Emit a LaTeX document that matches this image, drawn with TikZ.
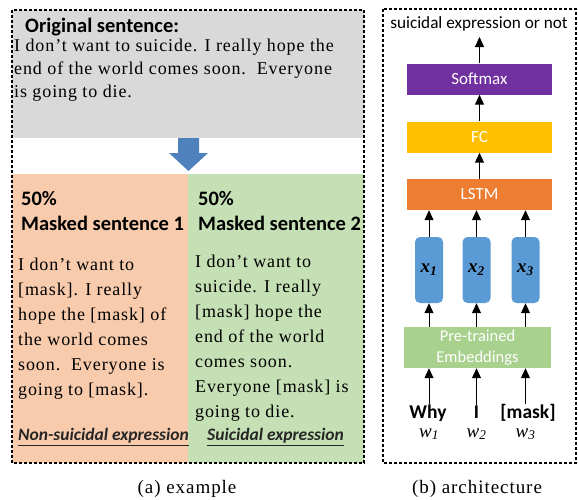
\documentclass[tikz,border=0pt]{standalone}
\usepackage{fontspec}
\setmainfont{Liberation Serif}
\newfontfamily\calibri{Carlito}
\newfontfamily\wordserif[LetterSpace=5]{Liberation Serif}
\usetikzlibrary{arrows.meta}

\definecolor{greyback}{HTML}{D9D9D9}
\definecolor{orangeback}{HTML}{F8CBAD}
\definecolor{greenback}{HTML}{C5E0B4}
\definecolor{arrowblue}{HTML}{4F81BD}
\definecolor{softmaxpurple}{HTML}{7030A0}
\definecolor{fcyellow}{HTML}{FFC000}
\definecolor{lstmorange}{HTML}{ED7D31}
\definecolor{vecblue}{HTML}{5B9BD5}
\definecolor{embgreen}{HTML}{A9D18E}
\definecolor{labelgrey}{HTML}{262626}

\begin{document}
\begin{tikzpicture}
  [x=1pt,y=-1pt,
   panel/.style={draw,line width=1.6pt,dash pattern=on 3pt off 2pt},
   layer/.style={minimum width=145pt,minimum height=31pt,inner sep=0pt,text=white,
     font=\calibri\fontsize{17}{20}\selectfont},
   vec/.style={fill=vecblue,rounded corners=5pt,minimum width=28pt,minimum height=66pt,inner sep=0pt,
     font=\bfseries\itshape\fontsize{19}{20}\selectfont},
   up/.style={-{Triangle[length=10pt,width=9pt]},line width=1pt},
   body/.style={anchor=north west,align=left,inner sep=0pt,font=\wordserif\fontsize{18}{25}\selectfont},
   head/.style={anchor=north west,align=left,inner sep=0pt,font=\calibri\bfseries\fontsize{20.5}{25}\selectfont},
   verdict/.style={inner sep=0pt,text=labelgrey,font=\calibri\bfseries\itshape\fontsize{17.5}{18}\selectfont},
   word/.style={inner sep=0pt,anchor=base,font=\calibri\bfseries\fontsize{19.5}{20}\selectfont},
   wvar/.style={inner sep=0pt,anchor=base,font=\itshape\fontsize{19}{20}\selectfont},
   caption/.style={inner sep=0pt,anchor=base,font=\wordserif\fontsize{19}{20}\selectfont}]

  \useasboundingbox (0,0) rectangle (578,499);

  % (a) example
  \fill[greyback] (12,10) rectangle (364,138);
  \fill[orangeback] (12,174) rectangle (188,463);
  \fill[greenback] (188,174) rectangle (364,463);
  \fill[arrowblue] (178,138) -- (199,138) -- (199,153) -- (208,153) -- (188.5,171)
    -- (169,153) -- (178,153) -- cycle;
  \draw[panel] (12,10) rectangle (364,463);

  \node [head] (orighead) at (25,17.5) {Original sentence:};
  \node [body] (origtext) at (14,39) {I don’t want to suicide. I really hope the\\[-2pt]
    end of the world comes soon.\ \ Everyone\\[-2pt] is going to die.};

  \node [head] (head1) at (21,191) {50\%\\Masked sentence 1};
  \node [head] (head2) at (198,191) {50\%\\Masked sentence 2};
  \node [body] (text1) at (18,257.5) {I don’t want to\\{}[mask]. I really\\
    hope the [mask] of\\ the world comes\\ soon.\ \ Everyone is\\ going to [mask].};
  \node [body] (text2) at (195,254.5) {I don’t want to\\ suicide. I really\\
    {}[mask] hope the\\ end of the world\\ comes soon.\\ Everyone [mask] is\\ going to die.};
  \node [verdict] (label1) at (103.5,437) {\underline{Non-suicidal expression}};
  \node [verdict] (label2) at (275.5,437) {\underline{Suicidal expression}};

  \node [caption] (capa) at (187,493) {(a) example};

  % (b) architecture
  \draw[panel] (383,9) rectangle (576,463);
  \node [inner sep=0pt,anchor=base,font=\calibri\fontsize{17.2}{18}\selectfont] (outlabel) at (479,28)
    {suicidal expression or not};
  \coordinate (out) at (479.5,37);

  \node [layer,fill=softmaxpurple] (softmax) at (479.5,79) {Softmax};
  \node [layer,fill=fcyellow] (fc) at (479.5,137) {FC};
  \node [layer,fill=lstmorange] (lstm) at (479.5,194.5) {LSTM};

  \node [vec] (x1) at (429,270) {x\textsubscript{1}};
  \node [vec] (x2) at (476.5,270) {x\textsubscript{2}};
  \node [vec] (x3) at (525.5,270) {x\textsubscript{3}};

  \node [layer,fill=embgreen,minimum width=147pt,minimum height=41pt,align=center,
    font=\calibri\fontsize{16.5}{21}\selectfont] (emb) at (477.5,347.5) {Pre-trained\\Embeddings};

  \node [word] (why) at (428,418) {Why};
  \node [word] (i) at (476.5,418) {I};
  \node [word] (mask) at (528,418) {[mask]};
  \node [wvar] (w1) at (429,437) {w\textsubscript{1}};
  \node [wvar] (w2) at (476.5,437) {w\textsubscript{2}};
  \node [wvar] (w3) at (525.5,437) {w\textsubscript{3}};

  \draw [up] (softmax) -- (out);
  \draw [up] (fc) -- (softmax);
  \draw [up] (lstm) -- (fc);
  \foreach \v in {x1,x2,x3}
    \draw [up] (\v.north) -- (\v.north |- lstm.south);
  \foreach \v in {x1,x2,x3}
    \draw [up] (\v.south |- emb.north) -- (\v.south);
  \foreach \from/\v in {why/x1,i/x2,mask/x3}
    \draw [up] (\v.south |- \from.north) -- (\v.south |- emb.south);

  \node [caption] (capb) at (477,493) {(b) architecture};

\end{tikzpicture}
\end{document}
